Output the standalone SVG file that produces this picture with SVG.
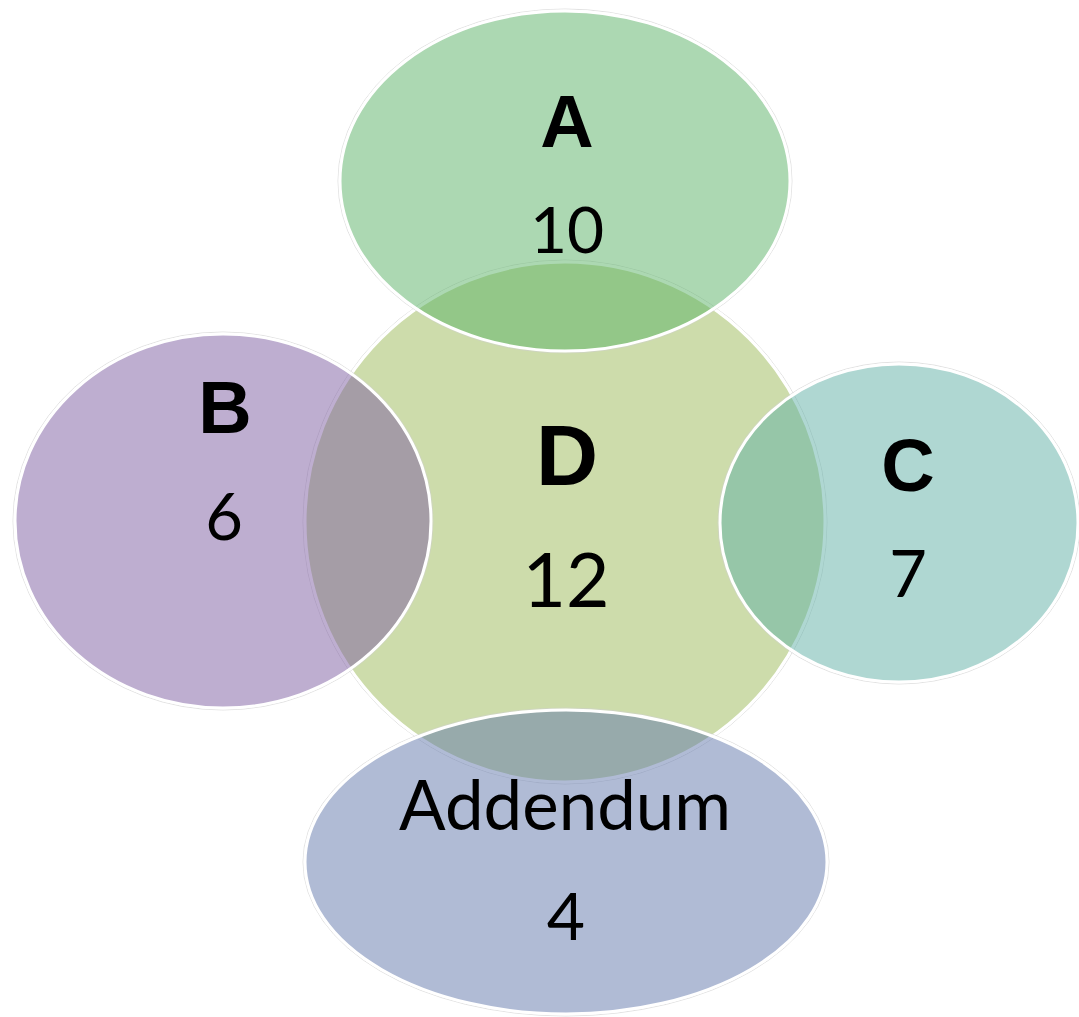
<svg xmlns="http://www.w3.org/2000/svg" width="1079" height="1017" viewBox="0 0 1079 1017">
<style>
.halo{fill:none;stroke:#cfcfcf;stroke-width:1;stroke-opacity:0.6}
.shape{stroke:#ffffff;stroke-width:3}
.sat{fill-opacity:0.5}
.lb{font-family:"Liberation Sans",Arial,sans-serif;font-weight:bold;fill:#000;text-anchor:middle}
.num{font-family:Lato,"Noto Sans",sans-serif;fill:#000;text-anchor:middle}
</style>
<rect width="1079" height="1017" fill="#ffffff"/>
<g id="D">
<circle class="halo" cx="565" cy="522" r="262"/>
<circle class="shape" cx="565" cy="522" r="260" fill="#cddcab"/>
</g>
<g id="A">
<ellipse class="halo" cx="565" cy="181" rx="227" ry="172"/>
<ellipse class="shape sat" cx="565" cy="181" rx="225" ry="170" fill="#59b165"/>
</g>
<g id="B">
<ellipse class="halo" cx="223" cy="521" rx="210" ry="189"/>
<ellipse class="shape sat" cx="223" cy="521" rx="208" ry="187" fill="#7d5da1"/>
</g>
<g id="C">
<ellipse class="halo" cx="899" cy="523" rx="181" ry="161"/>
<ellipse class="shape sat" cx="899" cy="523" rx="179" ry="159" fill="#5fafa5"/>
</g>
<g id="Addendum">
<ellipse class="halo" cx="566" cy="862" rx="263" ry="154"/>
<ellipse class="shape sat" cx="566" cy="862" rx="261" ry="152" fill="#6177ab"/>
</g>
<g id="labels">
<text class="lb" x="567" y="147" font-size="74">A</text>
<text class="num" x="567" y="253" font-size="64">10</text>
<text class="lb" x="225" y="433" font-size="74">B</text>
<text class="num" x="224" y="540" font-size="65">6</text>
<text class="lb" x="567" y="485" font-size="86">D</text>
<text class="num" x="566" y="607" font-size="75">12</text>
<text class="lb" x="908" y="491" font-size="74">C</text>
<text class="num" x="908" y="597" font-size="65">7</text>
<text class="num" x="565" y="830" font-size="69">Addendum</text>
<text class="num" x="566" y="940" font-size="66">4</text>
</g>
<g id="connectors"/>
</svg>
